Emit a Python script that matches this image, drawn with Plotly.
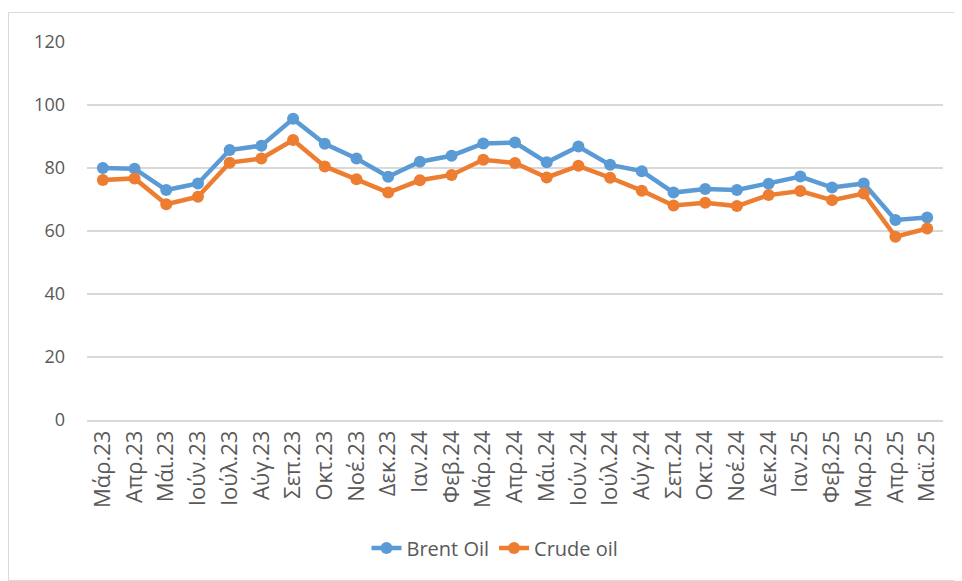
import plotly.graph_objects as go

months = ["Μάρ.23", "Απρ.23", "Μάι.23", "Ιούν.23", "Ιούλ.23", "Αύγ.23", "Σεπ.23", "Οκτ.23", "Νοέ.23", "Δεκ.23",
          "Ιαν.24", "Φεβ.24", "Μάρ.24", "Απρ.24", "Μάι.24", "Ιούν.24", "Ιούλ.24", "Αύγ.24", "Σεπ.24", "Οκτ.24",
          "Νοέ.24", "Δεκ.24", "Ιαν.25", "Φεβ.25", "Μαρ.25", "Απρ.25", "Μαϊ.25"]
brent = [80.0, 79.8, 73.0, 75.1, 85.7, 87.1, 95.6, 87.7, 83.0, 77.2,
         82.0, 83.9, 87.8, 88.1, 81.8, 86.8, 81.0, 79.0, 72.2, 73.3,
         73.0, 75.0, 77.3, 73.8, 75.1, 63.5, 64.3]
crude = [76.2, 76.7, 68.5, 70.9, 81.7, 83.0, 88.9, 80.5, 76.4, 72.2,
         76.1, 77.8, 82.6, 81.6, 77.0, 80.7, 76.9, 72.8, 68.1, 69.0,
         67.9, 71.4, 72.7, 69.8, 71.9, 58.2, 60.8]
y_ticks = [0, 20, 40, 60, 80, 100, 120]

fig = go.Figure()
fig.add_trace(go.Scatter(x=months, y=brent, name="Brent Oil", mode="lines+markers",
                         line=dict(color="#5B9BD5", width=4.5), marker=dict(size=12, color="#5B9BD5")))
fig.add_trace(go.Scatter(x=months, y=crude, name="Crude oil", mode="lines+markers",
                         line=dict(color="#ED7D31", width=4.5), marker=dict(size=12, color="#ED7D31")))

OFF = 8  # page body margin
L, R, T, B = 87 - OFF, 943 - OFF, 42 - OFF, 420 - OFF
W, H = 962 - OFF, 581 - OFF
pw, ph = R - L, B - T

fig.update_layout(
    width=W, height=H,
    margin=dict(l=L, r=W - R, t=T, b=H - B, autoexpand=False),
    plot_bgcolor="white", paper_bgcolor="white",
    font=dict(family="Open Sans, Noto Sans, sans-serif", size=18, color="#595959"),
    xaxis=dict(type="category", range=[-0.5, len(months) - 0.5], tickangle=-90,
               showgrid=False, showline=True, linecolor="#D9D9D9", linewidth=1.5,
               ticks="", tickfont=dict(size=22, color="#595959")),
    yaxis=dict(range=[0, 120], tickvals=y_ticks, showgrid=True, gridcolor="#D9D9D9", gridwidth=1.5,
               zeroline=False, showline=False, ticks="", ticklabelstandoff=21,
               tickfont=dict(size=18, color="#595959")),
    legend=dict(orientation="h", x=(495 - OFF - L) / pw, xanchor="center",
                y=(B - (548 - OFF)) / ph, yanchor="middle",
                font=dict(size=20, color="#595959")),
    showlegend=True,
    shapes=[dict(type="rect", xref="paper", yref="paper",
                 x0=(0.5 - L) / pw, x1=(953.5 - L) / pw,
                 y0=(B - 572.5) / ph, y1=(B - (12.5 - OFF)) / ph,
                 line=dict(color="#D9D9D9", width=1), fillcolor="rgba(0,0,0,0)", layer="below")],
)

fig.write_html("out.html")
